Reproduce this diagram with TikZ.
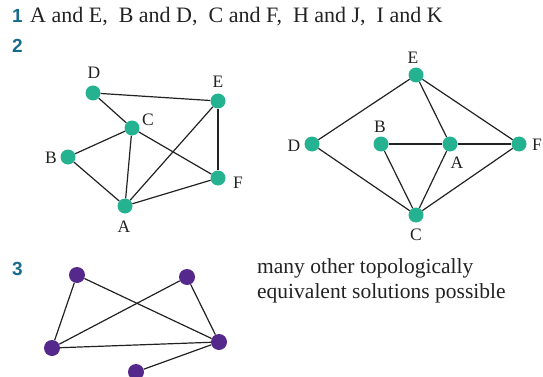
\documentclass[tikz,border=0pt]{standalone}
\usepackage{fontspec}
\usetikzlibrary{backgrounds}
\setmainfont{Liberation Serif}
\newfontfamily\numfont{Liberation Sans}
\definecolor{numblue}{HTML}{176C8C}
\definecolor{tealnode}{HTML}{25B291}
\definecolor{purplenode}{HTML}{55288C}
\definecolor{ink}{HTML}{222222}
\begin{document}
\begin{tikzpicture}[x=1pt,y=-1pt,
  qnum/.style={font=\numfont\bfseries\fontsize{19}{19}\selectfont, text=numblue, anchor=base west, inner sep=0},
  body/.style={font=\fontsize{21.5}{25}\selectfont, text=ink, anchor=base west, inner sep=0},
  tdot/.style={circle, fill=tealnode, minimum size=15pt, inner sep=0},
  pdot/.style={circle, fill=purplenode, minimum size=16pt, inner sep=0},
  lbl/.style={font=\fontsize{17.5}{17.5}\selectfont, text=ink, inner sep=0},
  edge/.style={draw=ink, line width=1.2pt}]
\useasboundingbox (0,0) rectangle (543,377);

% question numbers
\node[qnum] (n1) at (12,23) {1};
\node[qnum] (n2) at (12,53) {2};
\node[qnum] (n3) at (12,275) {3};

% answer 1
\node[body, font=\fontsize{22}{25}\selectfont] (t1) at (30,23) {A and E,\ \ B and D,\ \ C and F,\ \ H and J,\ \ I and K};

% answer 2, left graph
\node[tdot] (lD) at (93,93) {};
\node[tdot] (lE) at (218,101) {};
\node[tdot] (lC) at (132,128) {};
\node[tdot] (lB) at (68,157) {};
\node[tdot] (lF) at (218,178) {};
\node[tdot] (lA) at (125,206) {};
\node[lbl] (llD) at (94,73) {D};
\node[lbl] (llE) at (218,82) {E};
\node[lbl] (llC) at (148,120) {C};
\node[lbl] (llB) at (51,158) {B};
\node[lbl] (llF) at (238,183) {F};
\node[lbl] (llA) at (124,227) {A};
\begin{scope}[on background layer]
\path[edge] (lD) -- (lE);
\path[edge] (lD) -- (lC);
\path[edge] (lC) -- (lB);
\path[edge] (lC) -- (lA);
\path[edge] (lC) -- (lF);
\path[edge] (lB) -- (lA);
\path[edge] (lA) -- (lE);
\path[edge] (lA) -- (lF);
\path[edge] (lE) -- (lF);
\end{scope}

% answer 2, right graph
\node[tdot] (rE) at (416,75) {};
\node[tdot] (rD) at (312,144) {};
\node[tdot] (rB) at (381,144) {};
\node[tdot] (rA) at (450,144) {};
\node[tdot] (rF) at (519,144) {};
\node[tdot] (rC) at (416,215) {};
\node[lbl] (rlE) at (413,58) {E};
\node[lbl] (rlD) at (294,146) {D};
\node[lbl] (rlB) at (380,127) {B};
\node[lbl] (rlA) at (457,163) {A};
\node[lbl] (rlF) at (537,145) {F};
\node[lbl] (rlC) at (416,235) {C};
\begin{scope}[on background layer]
\path[edge] (rE) -- (rD);
\path[edge] (rE) -- (rA);
\path[edge] (rE) -- (rF);
\path[edge] (rD) -- (rC);
\path[edge] (rB) -- (rA);
\path[edge] (rA) -- (rF);
\path[edge] (rB) -- (rC);
\path[edge] (rA) -- (rC);
\path[edge] (rF) -- (rC);
\end{scope}

% answer 3
\node[pdot] (p1) at (77,275) {};
\node[pdot] (p2) at (187,277) {};
\node[pdot] (p3) at (52,348) {};
\node[pdot] (p4) at (219,342) {};
\node[pdot] (p5) at (136,372) {};
\begin{scope}[on background layer]
\path[edge] (p1) -- (p3);
\path[edge] (p1) -- (p4);
\path[edge] (p2) -- (p3);
\path[edge] (p2) -- (p4);
\path[edge] (p3) -- (p4);
\path[edge] (p4) -- (p5);
\end{scope}

\node[body] (t3a) at (257,273) {many other topologically};
\node[body] (t3b) at (257,298) {equivalent solutions possible};
\end{tikzpicture}
\end{document}
